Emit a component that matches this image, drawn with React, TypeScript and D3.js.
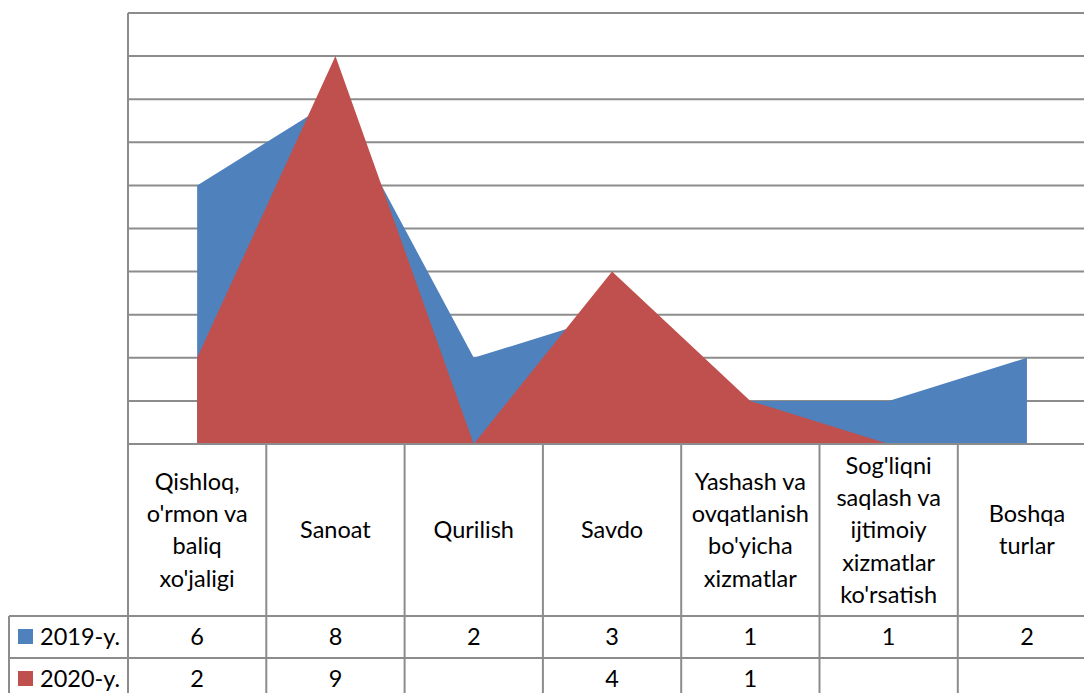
import React, { useEffect, useRef } from 'react';
import * as d3 from 'd3';

// categories (label lines as wrapped in the table header)
const categories = [
  ['Qishloq,', "o'rmon va", 'baliq', "xo'jaligi"],
  ['Sanoat'],
  ['Qurilish'],
  ['Savdo'],
  ['Yashash va', 'ovqatlanish', "bo'yicha", 'xizmatlar'],
  ["Sog'liqni", 'saqlash va', 'ijtimoiy', 'xizmatlar', "ko'rsatish"],
  ['Boshqa', 'turlar'],
];
const seriesNames = ['2019-y.', '2020-y.'];
const values2019 = [6, 8, 2, 3, 1, 1, 2];
const values2020: (number | null)[] = [2, 9, null, 4, 1, null, null];
const colors = ['#4F81BD', '#C0504D'];

const App = () => {
  const svgRef = useRef<SVGSVGElement>(null);

  useEffect(() => {
    const width = 1084;
    const height = 693;
    const left = 128;
    const bandW = 138.3;
    const top = 13;
    const base = 444;
    const headerBottom = 616;
    const rowH = 42;
    const gridColor = '#8c8c8c';
    const font = 'Lato, "Open Sans", sans-serif';
    const fontSize = 23.5;

    const svg = d3.select(svgRef.current);
    svg.selectAll('*').remove();
    svg.attr('width', width).attr('height', height);

    const keys = categories.map((_, i) => String(i));
    const x = d3.scaleBand().domain(keys).range([left, left + bandW * keys.length]);
    const y = d3.scaleLinear().domain([0, 10]).range([base, top]);
    const cx = (i: number) => (x(String(i)) as number) + x.bandwidth() / 2;
    const right = left + bandW * keys.length;

    // gridlines
    svg.append('g')
      .selectAll('line')
      .data(d3.range(1, 11))
      .enter()
      .append('line')
      .attr('x1', left)
      .attr('x2', right)
      .attr('y1', d => y(d))
      .attr('y2', d => y(d))
      .attr('stroke', gridColor)
      .attr('stroke-width', 2);

    // areas (blank values plot as zero)
    const series = [values2019, values2020];
    series.forEach((vals, si) => {
      const area = d3.area<number | null>()
        .x((_, i) => cx(i))
        .y0(y(0))
        .y1(d => y(d ?? 0));
      svg.append('path')
        .attr('d', area(vals) as string)
        .attr('fill', colors[si]);
    });

    const lines = svg.append('g').attr('stroke', gridColor).attr('stroke-width', 2);
    // axis / table vertical lines
    lines.append('line').attr('x1', left).attr('x2', left).attr('y1', top).attr('y2', height);
    keys.forEach((k, i) => {
      if (i === 0) return;
      const xx = x(k) as number;
      lines.append('line').attr('x1', xx).attr('x2', xx).attr('y1', base).attr('y2', height);
    });
    lines.append('line').attr('x1', right).attr('x2', right).attr('y1', base).attr('y2', height);
    // horizontal table lines
    lines.append('line').attr('x1', left).attr('x2', right).attr('y1', base).attr('y2', base);
    [headerBottom, headerBottom + rowH].forEach(yy => {
      lines.append('line').attr('x1', 9).attr('x2', right).attr('y1', yy).attr('y2', yy);
    });
    lines.append('line').attr('x1', 9).attr('x2', 9).attr('y1', headerBottom).attr('y2', height);

    // header labels
    const lineH = 32.3;
    const midHeader = (base + headerBottom) / 2;
    categories.forEach((lbl, i) => {
      const t = svg.append('text')
        .attr('x', cx(i))
        .attr('text-anchor', 'middle')
        .attr('font-family', font)
        .attr('font-size', fontSize)
        .attr('fill', '#000');
      const y0 = midHeader - ((lbl.length - 1) * lineH) / 2;
      lbl.forEach((s, li) => {
        t.append('tspan')
          .attr('x', cx(i))
          .attr('y', y0 + li * lineH)
          .attr('dy', '0.35em')
          .text(s);
      });
    });

    // data rows
    series.forEach((vals, si) => {
      const rowMid = headerBottom + rowH * si + rowH / 2;
      svg.append('rect')
        .attr('x', 18)
        .attr('y', rowMid - 8)
        .attr('width', 15)
        .attr('height', 15)
        .attr('fill', colors[si]);
      svg.append('text')
        .attr('x', 40)
        .attr('y', rowMid)
        .attr('dy', '0.35em')
        .attr('font-family', font)
        .attr('font-size', fontSize)
        .text(seriesNames[si]);
      vals.forEach((v, i) => {
        if (v === null) return;
        svg.append('text')
          .attr('x', cx(i))
          .attr('y', rowMid)
          .attr('dy', '0.35em')
          .attr('text-anchor', 'middle')
          .attr('font-family', font)
          .attr('font-size', fontSize)
          .text(String(v));
      });
    });
  }, []);

  return (
    <svg
      ref={svgRef}
      style={{ position: 'absolute', left: 0, top: 0, overflow: 'hidden', background: '#fff' }}
    />
  );
};

export default App;
